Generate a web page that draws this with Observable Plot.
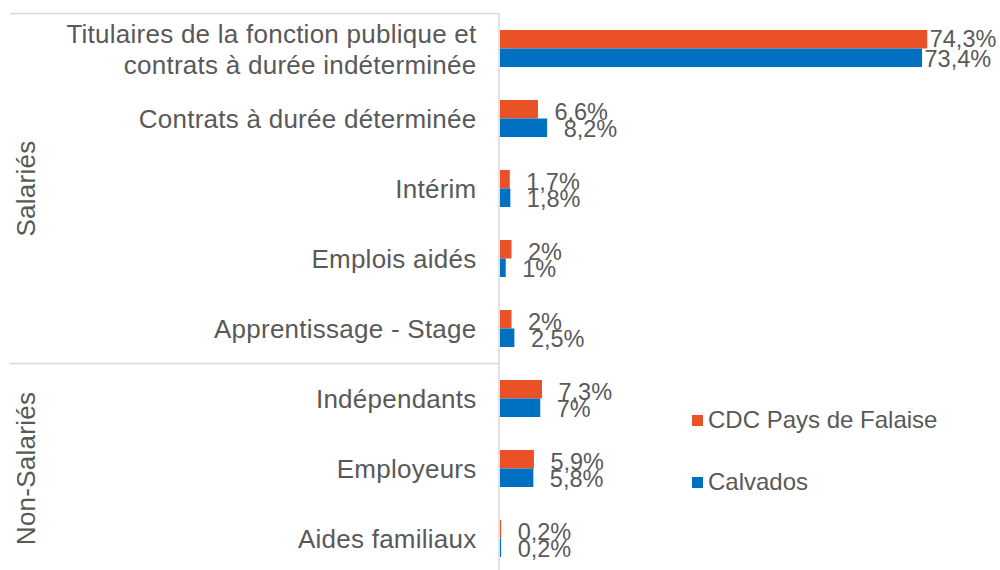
<!DOCTYPE html>
<html><head><meta charset="utf-8">
<script src="https://cdn.jsdelivr.net/npm/d3@7"></script>
<script src="https://cdn.jsdelivr.net/npm/@observablehq/plot@0.6"></script>
<style>
body{margin:0;background:#fff;}
#wrap{position:relative;width:1000px;height:570px;font-family:"Liberation Sans",Arial,sans-serif;overflow:hidden;}
#wrap svg g[font-size="26"]{letter-spacing:0.25px;}
.legend{position:absolute;left:692px;font-size:24px;line-height:26px;color:#595959;display:flex;align-items:center;white-space:nowrap;}
.sw{width:11px;height:11px;margin-right:5px;flex:none;}
</style></head><body><div id="wrap"></div>
<script>
const categories = [
  "Titulaires de la fonction publique et\ncontrats à durée indéterminée",
  "Contrats à durée déterminée",
  "Intérim",
  "Emplois aidés",
  "Apprentissage - Stage",
  "Indépendants",
  "Employeurs",
  "Aides familiaux"
];
const groups = ["Salariés","Salariés","Salariés","Salariés","Salariés","Non-Salariés","Non-Salariés","Non-Salariés"];
const seriesNames = ["CDC Pays de Falaise", "Calvados"];
const falaise = [74.3, 6.6, 1.7, 2, 2, 7.3, 5.9, 0.2];
const calvados = [73.4, 8.2, 1.8, 1, 2.5, 7, 5.8, 0.2];
const colors = ["#EA5127", "#0070C0"];

const textColor = "#595959";
const gridColor = "#D9D9D9";
const yTop = 13, yBottom = 573;
const step = (yBottom - yTop) / categories.length;

const rows = categories.flatMap((c, i) => [
  {cat: c, s: 0, value: falaise[i]},
  {cat: c, s: 1, value: calvados[i]}
]);
const fmt = d => String(d.value).replace(".", ",") + "%";

// group boundaries & labels
const groupNames = [...new Set(groups)];
const groupStarts = groupNames.map(g => categories[groups.indexOf(g)]);
const groupMid = groupNames.map(g => {
  const a = groups.indexOf(g), b = groups.lastIndexOf(g);
  return {name: g, cat: categories[Math.floor((a + b) / 2)]};
});

const big = d => d.value > 50;

const chart = Plot.plot({
  width: 1000,
  height: 570,
  marginTop: yTop,
  marginBottom: 0,
  marginLeft: 10,
  marginRight: 501,
  style: {fontFamily: "'Liberation Sans', Arial, sans-serif", color: textColor, background: "white"},
  x: {domain: [0, 100], range: [500, 1075], axis: null},
  y: {domain: categories, range: [yTop, yBottom], padding: 0, axis: null},
  marks: [
    Plot.ruleY(groupStarts, {dy: -step / 2, stroke: gridColor, strokeWidth: 1.5}),
    Plot.ruleX([0], {dx: -1.5, stroke: gridColor, strokeWidth: 1.5}),
    Plot.barX(rows.filter(d => d.s === 0), {x: "value", y: "cat", fill: colors[0], insetTop: 17, insetBottom: 34.5}),
    Plot.barX(rows.filter(d => d.s === 1), {x: "value", y: "cat", fill: colors[1], insetTop: 35.5, insetBottom: 16}),
    Plot.text(rows.filter(d => d.s === 0 && !big(d)), {x: "value", y: "cat", text: fmt, dx: 16, dy: -6, textAnchor: "start", fontSize: 23.5, fill: textColor}),
    Plot.text(rows.filter(d => d.s === 1 && !big(d)), {x: "value", y: "cat", text: fmt, dx: 16, dy: 11, textAnchor: "start", fontSize: 23.5, fill: textColor}),
    Plot.text(rows.filter(d => d.s === 0 && big(d)), {x: "value", y: "cat", text: fmt, dx: 2, dy: -9, textAnchor: "start", fontSize: 23.5, fill: textColor}),
    Plot.text(rows.filter(d => d.s === 1 && big(d)), {x: "value", y: "cat", text: fmt, dx: 2, dy: 11, textAnchor: "start", fontSize: 23.5, fill: textColor}),
    Plot.text(categories, {x: 0, y: d => d, text: d => d, dx: -24, textAnchor: "end", lineHeight: 1.2, fontSize: 26, fill: textColor}),
    Plot.text(groupMid, {y: "cat", text: "name", frameAnchor: "left", dx: 16, rotate: -90, textAnchor: "middle", fontSize: 26, fill: textColor})
  ]
});
const wrap = document.getElementById("wrap");
wrap.appendChild(chart);

const legendTops = [407, 469];
seriesNames.forEach((name, i) => {
  const item = document.createElement("div");
  item.className = "legend";
  item.style.top = legendTops[i] + "px";
  const sw = document.createElement("span");
  sw.className = "sw";
  sw.style.background = colors[i];
  const t = document.createElement("span");
  t.textContent = name;
  item.appendChild(sw);
  item.appendChild(t);
  wrap.appendChild(item);
});
</script>
</body></html>
